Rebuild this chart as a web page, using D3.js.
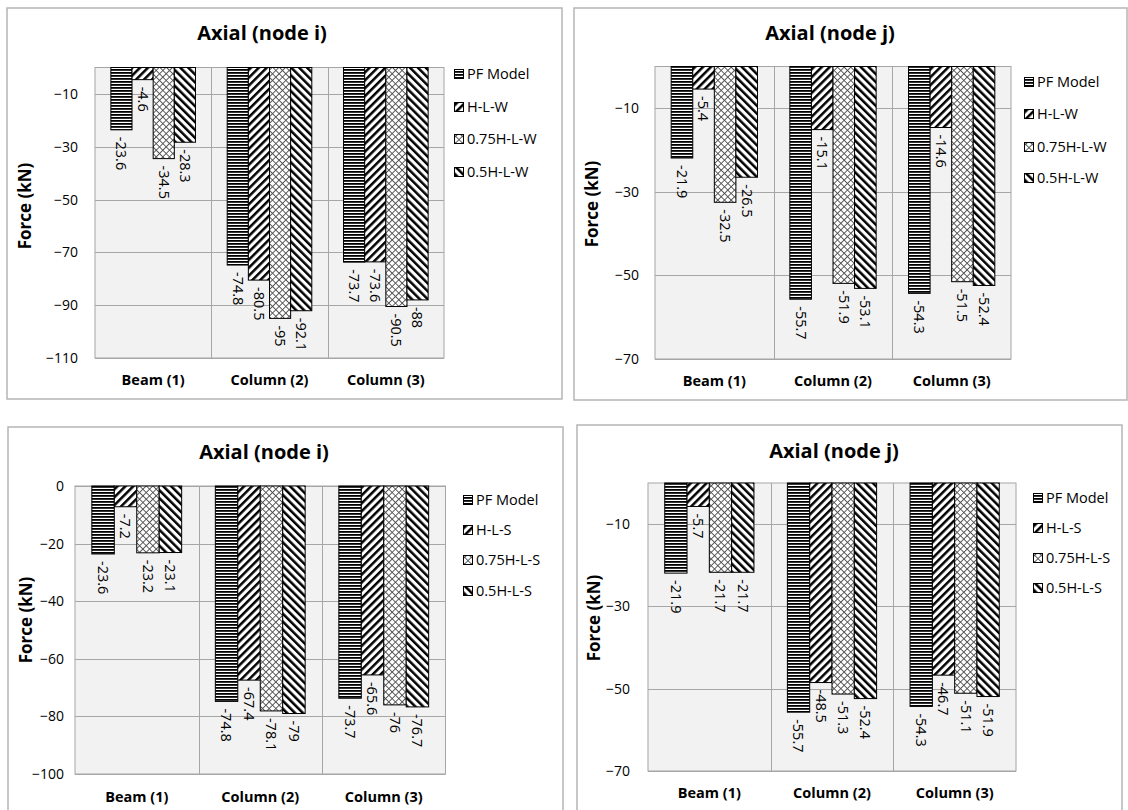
<!DOCTYPE html>
<html>
<head>
<meta charset="utf-8">
<script src="https://cdn.jsdelivr.net/npm/d3@7"></script>
<style>
  html, body { margin: 0; padding: 0; background: #ffffff; }
  svg { display: block; font-family: "Open Sans", Lato, "Liberation Sans", sans-serif; }
</style>
</head>
<body>
<script>
// ---- Data ----
const categories = ["Beam (1)", "Column (2)", "Column (3)"];
const seriesW = ["PF Model", "H-L-W", "0.75H-L-W", "0.5H-L-W"];
const seriesS = ["PF Model", "H-L-S", "0.75H-L-S", "0.5H-L-S"];

// axial force (kN), one row per series, one value per category
const nodeI_W = [
  [-23.6, -74.8, -73.7],
  [-4.6, -80.5, -73.6],
  [-34.5, -95, -90.5],
  [-28.3, -92.1, -88]
];
const nodeJ_W = [
  [-21.9, -55.7, -54.3],
  [-5.4, -15.1, -14.6],
  [-32.5, -51.9, -51.5],
  [-26.5, -53.1, -52.4]
];
const nodeI_S = [
  [-23.6, -74.8, -73.7],
  [-7.2, -67.4, -65.6],
  [-23.2, -78.1, -76],
  [-23.1, -79, -76.7]
];
const nodeJ_S = [
  [-21.9, -55.7, -54.3],
  [-5.7, -48.5, -46.7],
  [-21.7, -51.3, -51.1],
  [-21.7, -52.4, -51.9]
];

const ticksI_W = [-10, -30, -50, -70, -90, -110];
const ticksJ = [-10, -30, -50, -70];
const ticksI_S = [0, -20, -40, -60, -80, -100];

const patternIds = ["hstripe", "fwd", "cross", "back"];
const FONT = "'Open Sans', Lato, sans-serif";

// ---- Canvas ----
const svg = d3.select("body").append("svg")
  .attr("width", 1128).attr("height", 810);

svg.append("rect").attr("width", 1128).attr("height", 810).attr("fill", "#ffffff");

// ---- Fill patterns ----
const defs = svg.append("defs");

// narrow horizontal stripes
const ph = defs.append("pattern").attr("id", "hstripe")
  .attr("patternUnits", "userSpaceOnUse").attr("width", 6).attr("height", 3);
ph.append("rect").attr("width", 6).attr("height", 3).attr("fill", "#ffffff");
ph.append("rect").attr("width", 6).attr("height", 1.8).attr("fill", "#000000");

// wide diagonal stripes, "/" and "\"
function diagPattern(id, angle) {
  const p = defs.append("pattern").attr("id", id)
    .attr("patternUnits", "userSpaceOnUse")
    .attr("width", 5.6).attr("height", 10)
    .attr("patternTransform", `rotate(${angle})`);
  p.append("rect").attr("width", 5.6).attr("height", 10).attr("fill", "#ffffff");
  p.append("rect").attr("width", 2.5).attr("height", 10).attr("fill", "#000000");
}
diagPattern("fwd", 45);
diagPattern("back", -45);

// outlined diamond lattice
const pc = defs.append("pattern").attr("id", "cross")
  .attr("patternUnits", "userSpaceOnUse")
  .attr("width", 4.7).attr("height", 4.7)
  .attr("patternTransform", "rotate(45)");
pc.append("rect").attr("width", 4.7).attr("height", 4.7).attr("fill", "#ffffff");
pc.append("rect").attr("width", 4.7).attr("height", 0.9).attr("fill", "#4d4d4d");
pc.append("rect").attr("width", 0.9).attr("height", 4.7).attr("fill", "#4d4d4d");

// ---- Panel drawing ----
function drawPanel(cfg) {
  const g = svg.append("g");

  // chart frame
  g.append("rect")
    .attr("x", cfg.box[0]).attr("y", cfg.box[1])
    .attr("width", cfg.box[2]).attr("height", cfg.box[3])
    .attr("fill", "#ffffff").attr("stroke", "#b5b5b5").attr("stroke-width", 1.5);

  const [l, r, t, b] = cfg.plot;
  const y = d3.scaleLinear().domain([0, cfg.min]).range([t, b]);
  const x = d3.scaleBand().domain(categories).range([l, r]).paddingInner(0).paddingOuter(0);
  const xs = d3.scaleBand().domain(d3.range(cfg.series.length))
    .range([0, x.bandwidth()]).paddingInner(0).paddingOuter(0.75);

  // plot area
  g.append("rect")
    .attr("x", l).attr("y", t).attr("width", r - l).attr("height", b - t)
    .attr("fill", "#f2f2f2");

  // horizontal gridlines
  g.append("g").selectAll("line").data(cfg.ticks).join("line")
    .attr("x1", l).attr("x2", r)
    .attr("y1", d => Math.round(y(d)) + 0.5).attr("y2", d => Math.round(y(d)) + 0.5)
    .attr("stroke", "#a6a6a6").attr("stroke-width", 1);

  // category separators
  g.append("g").selectAll("line").data(categories.slice(1)).join("line")
    .attr("x1", d => Math.round(x(d)) + 0.5).attr("x2", d => Math.round(x(d)) + 0.5)
    .attr("y1", t).attr("y2", b)
    .attr("stroke", "#a6a6a6").attr("stroke-width", 1);

  g.append("rect")
    .attr("x", l).attr("y", t).attr("width", r - l).attr("height", b - t)
    .attr("fill", "none").attr("stroke", "#a6a6a6").attr("stroke-width", 1);

  // y-axis tick labels
  const yAxis = d3.axisLeft(y).tickValues(cfg.ticks).tickSize(0).tickPadding(0)
    .tickFormat(d3.format("d"));
  const ya = g.append("g").attr("transform", `translate(${cfg.tickRight},0)`).call(yAxis);
  ya.select(".domain").remove();
  ya.selectAll("text").attr("font-size", 14).attr("fill", "#000")
    .attr("font-family", FONT);

  // x-axis category labels
  const xAxis = d3.axisBottom(x).tickSize(0).tickPadding(0);
  const xa = g.append("g").attr("transform", `translate(0,${cfg.catY})`).call(xAxis);
  xa.select(".domain").remove();
  xa.selectAll("text").attr("font-size", 14.5).attr("font-weight", "bold")
    .attr("fill", "#000").attr("dy", "0.35em")
    .attr("font-family", FONT);

  // bars
  const barData = [];
  cfg.values.forEach((row, si) => row.forEach((v, ci) =>
    barData.push({ si, cat: categories[ci], v })));

  g.append("g").selectAll("rect").data(barData).join("rect")
    .attr("x", d => x(d.cat) + xs(d.si))
    .attr("y", y(0))
    .attr("width", xs.bandwidth())
    .attr("height", d => y(d.v) - y(0))
    .attr("fill", d => `url(#${patternIds[d.si]})`)
    .attr("stroke", "#000").attr("stroke-width", 1);

  // value labels, rotated, below each bar end
  g.append("g").selectAll("text").data(barData).join("text")
    .attr("transform", d =>
      `translate(${x(d.cat) + xs(d.si) + xs.bandwidth() / 2},${y(d.v) + 7}) rotate(90)`)
    .attr("dy", "0.35em")
    .attr("text-anchor", "start")
    .attr("font-size", 14.5).attr("fill", "#000")
    .text(d => String(d.v));

  // title
  g.append("text")
    .attr("x", cfg.titleX).attr("y", cfg.titleY).attr("dy", "0.35em")
    .attr("text-anchor", "middle").attr("font-size", 20).attr("font-weight", "bold")
    .attr("fill", "#000").text(cfg.title);

  // y-axis title
  g.append("text")
    .attr("transform", `translate(${cfg.ylabX},${cfg.ylabY}) rotate(-90)`)
    .attr("dy", "0.35em").attr("text-anchor", "middle")
    .attr("font-size", 17).attr("font-weight", "bold").attr("fill", "#000")
    .text("Force (kN)");

  // legend
  const lg = g.append("g").selectAll("g").data(cfg.series).join("g")
    .attr("transform", (d, i) => `translate(${cfg.legX},${cfg.legRows[i]})`);
  lg.append("rect")
    .attr("x", -4.5).attr("y", -4.5).attr("width", 9).attr("height", 9)
    .attr("fill", (d, i) => `url(#${patternIds[i]})`)
    .attr("stroke", "#000").attr("stroke-width", 1);
  lg.append("text")
    .attr("x", cfg.legTextDx).attr("dy", "0.35em")
    .attr("font-size", 14.5).attr("fill", "#000")
    .text(d => d);
}

drawPanel({
  title: "Axial (node i)", series: seriesW, values: nodeI_W, ticks: ticksI_W, min: -110,
  box: [7, 8, 555, 391], plot: [95, 444, 67.5, 358],
  titleX: 262, titleY: 33, ylabX: 25, ylabY: 206, tickRight: 78, catY: 380,
  legX: 459, legTextDx: 8, legRows: [74, 107, 139, 172]
});

drawPanel({
  title: "Axial (node j)", series: seriesW, values: nodeJ_W, ticks: ticksJ, min: -70,
  box: [574, 8, 553, 392], plot: [655, 1011, 66.5, 359],
  titleX: 830, titleY: 33, ylabX: 592, ylabY: 204, tickRight: 639, catY: 381,
  legX: 1029, legTextDx: 8, legRows: [82, 114, 147, 178]
});

drawPanel({
  title: "Axial (node i)", series: seriesS, values: nodeI_S, ticks: ticksI_S, min: -100,
  box: [8, 427, 555, 400], plot: [75, 445.5, 486, 774],
  titleX: 264, titleY: 452, ylabX: 26, ylabY: 620, tickRight: 64, catY: 797,
  legX: 468, legTextDx: 8, legRows: [500, 530, 560, 591]
});

drawPanel({
  title: "Axial (node j)", series: seriesS, values: nodeJ_S, ticks: ticksJ, min: -70,
  box: [577, 425, 545, 400], plot: [648, 1016, 483, 771],
  titleX: 834, titleY: 451, ylabX: 594, ylabY: 618, tickRight: 630, catY: 793,
  legX: 1038, legTextDx: 8, legRows: [498, 528, 558, 588]
});
</script>
</body>
</html>
